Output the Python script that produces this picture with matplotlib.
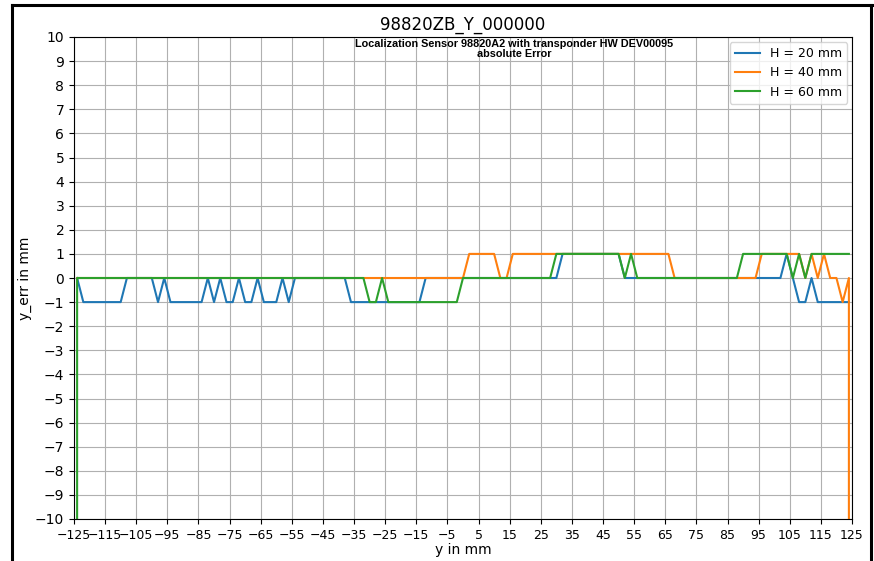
#!/usr/bin/env python3
"""Localization sensor y error vs y position, three heights -> out.png."""
import matplotlib
matplotlib.use("Agg")
import matplotlib.pyplot as plt
from matplotlib.lines import Line2D

# positions in mm (2 mm steps, first/last sample doubled for the glitch values)
y_pos = [-124] + list(range(-124, 125, 2)) + [124]

err_h20 = ([0, 0] + [-1] * 7 + [0] * 5 + [-1, 0] + [-1] * 6 + [0, -1, 0, -1, -1, 0, -1, -1, 0]
           + [-1, -1, -1, 0, -1] + [0] * 9 + [-1] * 12 + [0] * 22 + [1] * 10 + [0] * 26
           + [1, 0, -1, -1, 0] + [-1] * 6 + [-1])
err_h40 = ([0] * 64 + [1] * 5 + [0, 0] + [1] * 26 + [0] * 14 + [1] * 7
           + [0, 1, 0, 1, 0, 0, -1, 0, -10])
err_h60 = ([-10] + [0] * 47 + [-1, -1, 0] + [-1] * 12 + [0] * 15 + [1] * 11
           + [0, 1] + [0] * 17 + [1] * 8 + [0, 1, 0] + [1] * 7 + [1])

labels = ["H = 20 mm", "H = 40 mm", "H = 60 mm"]
series = [err_h20, err_h40, err_h60]


def main() -> int:
    fig = plt.figure(figsize=(8.74, 5.61), dpi=100)
    ax = fig.add_axes([74 / 874, 1 - 519 / 561, 778 / 874, 482 / 561])

    for ys, lab in zip(series, labels):
        ax.plot(y_pos, ys, label=lab)

    ax.set_xlim(-125, 125)
    ax.set_ylim(-10, 10)
    ax.set_xticks(range(-125, 126, 10))
    ax.set_yticks(range(-10, 11))
    ax.tick_params(axis="x", labelsize=9)
    ax.grid(True)
    ax.set_xlabel("y in mm", labelpad=1)
    ax.set_ylabel("y_err in mm", labelpad=2)
    ax.set_title("98820ZB_Y_000000", pad=5)
    ax.text(0.566, 0.996, "Localization Sensor 98820A2 with transponder HW DEV00095\nabsolute Error",
            transform=ax.transAxes, ha="center", va="top", fontsize=7.8,
            fontweight="bold", family=["Liberation Sans Narrow", "Liberation Sans"],
            linespacing=1.0)
    ax.legend(loc="upper right", fontsize=9, borderaxespad=0.4)

    # black screenshot frame
    for xs, ys in [((12, 872), (556, 556)), ((12, 12), (0, 556)), ((871, 871), (0, 556))]:
        fig.add_artist(Line2D([x / 874 for x in xs], [y / 561 for y in ys],
                              transform=fig.transFigure, color="black", linewidth=2.2))

    fig.savefig("out.png", dpi=100)
    return 0


if __name__ == "__main__":
    raise SystemExit(main())
